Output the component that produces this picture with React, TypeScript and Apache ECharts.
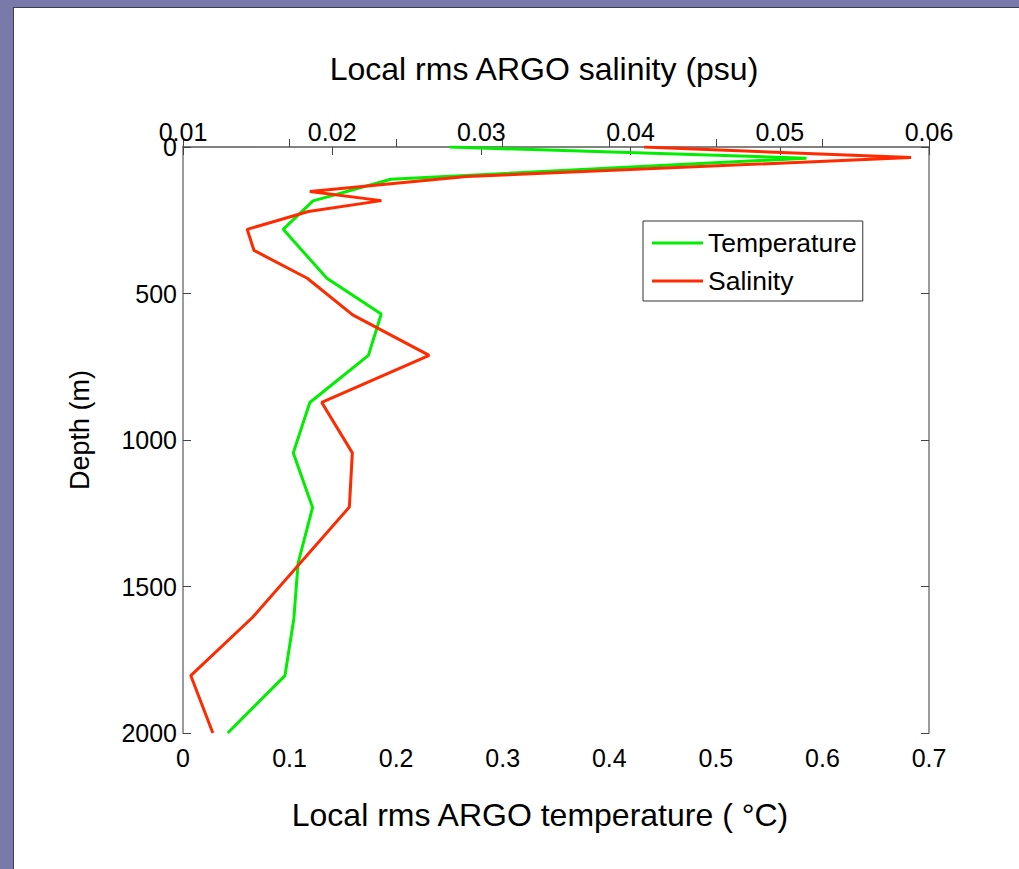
import React, { useEffect, useRef } from "react";
import * as echarts from "echarts";

const tempDepth = [0, 38, 110, 184, 281, 448, 570, 711, 872, 1044, 1230, 1420, 1610, 1804, 2000];
const tempValues = [0.25, 0.585, 0.195, 0.122, 0.094, 0.135, 0.186, 0.174, 0.119, 0.1035, 0.1216, 0.108, 0.104, 0.0957, 0.042];

const salDepth = [0, 36, 101, 152, 183, 220, 281, 353, 448, 573, 711, 872, 1044, 1229, 1605, 1804, 2000];
const salValues = [0.0409, 0.0588, 0.029, 0.0185, 0.0233, 0.0184, 0.0143, 0.01476, 0.01833, 0.02137, 0.0265, 0.0193, 0.02135, 0.02115, 0.01467, 0.01052, 0.012];

const seriesNames = ["Temperature", "Salinity"];
const FONT = "'Liberation Sans', Arial, Helvetica, sans-serif";

export default function App() {
  const ref = useRef<HTMLDivElement>(null);
  useEffect(() => {
    if (!ref.current) return;
    const chart = echarts.init(ref.current, null, { renderer: "svg" });
    const tickStyle = { show: true, inside: true, length: 8, lineStyle: { color: "#444", width: 1 } };
    const lineStyle = { show: true, lineStyle: { color: "#7a7a7a", width: 1.5 } };
    const labelStyle = { color: "#000", fontSize: 25, fontFamily: FONT };
    chart.setOption({
      animation: false,
      backgroundColor: "#fff",
      textStyle: { fontFamily: FONT },
      graphic: [
        { type: "rect", shape: { x: 0, y: 0, width: 1019, height: 7 }, style: { fill: "#7a7aaa" }, silent: true },
        { type: "rect", shape: { x: 0, y: 0, width: 13, height: 869 }, style: { fill: "#7a7aaa" }, silent: true },
        { type: "line", shape: { x1: 13, y1: 7.5, x2: 1019, y2: 7.5 }, style: { stroke: "#3c3c58", lineWidth: 1 }, silent: true },
        { type: "line", shape: { x1: 13.5, y1: 7, x2: 13.5, y2: 869 }, style: { stroke: "#3c3c58", lineWidth: 1 }, silent: true },
      ],
      grid: { left: 183, top: 147, width: 746, height: 586, containLabel: false },
      legend: {
        orient: "vertical",
        left: 643,
        top: 221,
        data: seriesNames,
        icon: "rect",
        itemWidth: 51,
        itemHeight: 3,
        itemGap: 8,
        padding: [7, 6, 5, 9],
        borderColor: "#333",
        borderWidth: 1,
        backgroundColor: "#fff",
        textStyle: { color: "#000", fontSize: 26.5, fontFamily: FONT, lineHeight: 30, padding: [0, 0, 0, 0] },
      },
      xAxis: [
        {
          type: "value",
          position: "bottom",
          min: 0,
          max: 0.7,
          interval: 0.1,
          splitLine: { show: false },
          axisLine: lineStyle,
          axisTick: tickStyle,
          axisLabel: {
            ...labelStyle,
            margin: 12,
            formatter: (v: number) => (v === 0 ? "0" : v.toFixed(1)),
          },
          name: "Local rms ARGO temperature ( °C)",
          nameLocation: "middle",
          nameGap: 66,
          nameTextStyle: { color: "#000", fontSize: 32, fontFamily: FONT, padding: [0, 32, 0, 0] },
        },
        {
          type: "value",
          position: "top",
          min: 0.01,
          max: 0.06,
          interval: 0.01,
          splitLine: { show: false },
          axisLine: lineStyle,
          axisTick: tickStyle,
          axisLabel: {
            ...labelStyle,
            margin: 3,
            formatter: (v: number) => v.toFixed(2),
          },
          name: "Local rms ARGO salinity (psu)",
          nameLocation: "middle",
          nameGap: 62,
          nameTextStyle: { color: "#000", fontSize: 32, fontFamily: FONT, padding: [0, 24, 0, 0] },
        },
      ],
      yAxis: [
        {
          type: "value",
          inverse: true,
          min: 0,
          max: 2000,
          interval: 500,
          position: "left",
          splitLine: { show: false },
          axisLine: lineStyle,
          axisTick: tickStyle,
          axisLabel: { ...labelStyle, margin: 6, formatter: (v: number) => String(v) },
          name: "Depth (m)",
          nameLocation: "middle",
          nameGap: 90,
          nameTextStyle: { color: "#000", fontSize: 27, fontFamily: FONT, padding: [0, 0, 0, 20] },
        },
        {
          type: "value",
          inverse: true,
          min: 0,
          max: 2000,
          interval: 500,
          position: "right",
          splitLine: { show: false },
          axisLine: lineStyle,
          axisTick: tickStyle,
          axisLabel: { show: false },
        },
      ],
      series: [
        {
          name: seriesNames[0],
          type: "line",
          xAxisIndex: 0,
          yAxisIndex: 0,
          data: tempValues.map((v, i) => [v, tempDepth[i]]),
          showSymbol: false,
          symbol: "none",
          color: "#00ee00",
          lineStyle: { color: "#00ee00", width: 3 },
        },
        {
          name: seriesNames[1],
          type: "line",
          xAxisIndex: 1,
          yAxisIndex: 0,
          data: salValues.map((v, i) => [v, salDepth[i]]),
          showSymbol: false,
          symbol: "none",
          color: "#ff2a00",
          lineStyle: { color: "#ff2a00", width: 3 },
        },
      ],
    });
    return () => chart.dispose();
  }, []);
  return (
    <div
      ref={ref}
      style={{ position: "absolute", left: 0, top: 0, width: 1019, height: 869 }}
    />
  );
}
